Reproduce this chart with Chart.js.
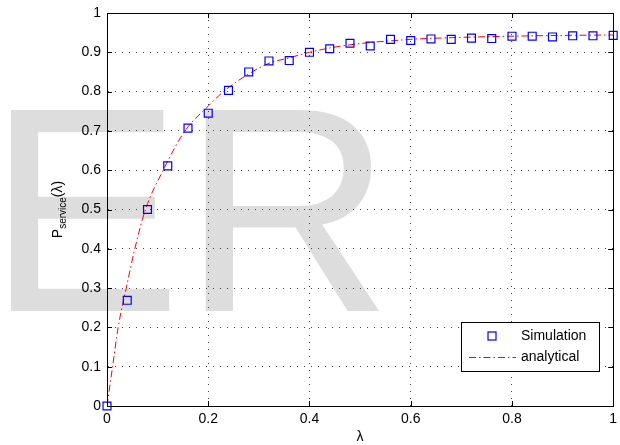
<!DOCTYPE html>
<html>
<head>
<meta charset="utf-8">
<script src="https://cdn.jsdelivr.net/npm/chart.js@4/dist/chart.umd.min.js"></script>
<style>
  html, body { margin: 0; padding: 0; background: #fff; }
  #wrap { width: 620px; height: 445px; }
</style>
</head>
<body>
<div id="wrap"><canvas id="c" width="620" height="445"></canvas></div>
<script>
// simulation points (lambda, P_service)
var simLambda = [0, 0.04, 0.08, 0.12, 0.16, 0.20, 0.24, 0.28, 0.32, 0.36, 0.40, 0.44, 0.48,
                 0.52, 0.56, 0.60, 0.64, 0.68, 0.72, 0.76, 0.80, 0.84, 0.88, 0.92, 0.96, 1.00];
var simP = [0, 0.269, 0.500, 0.611, 0.707, 0.745, 0.803, 0.850, 0.878, 0.879, 0.900, 0.909, 0.923,
            0.916, 0.933, 0.930, 0.934, 0.933, 0.936, 0.935, 0.941, 0.941, 0.939, 0.942, 0.942, 0.943];

// analytical curve
var anLambda = [0, 0.011, 0.022, 0.038, 0.055, 0.076, 0.111, 0.154, 0.200, 0.230, 0.280, 0.320,
                0.360, 0.400, 0.440, 0.480, 0.520, 0.560, 0.600, 0.700, 0.800, 0.900, 1.000];
var anP = [0, 0.1, 0.2, 0.3, 0.4, 0.5, 0.6, 0.7, 0.763, 0.8, 0.845, 0.872,
           0.886, 0.900, 0.911, 0.919, 0.925, 0.929, 0.933, 0.938, 0.941, 0.943, 0.944];

var xTicks = [0, 0.2, 0.4, 0.6, 0.8, 1];
var yTicks = [0, 0.1, 0.2, 0.3, 0.4, 0.5, 0.6, 0.7, 0.8, 0.9, 1];

var FONT = '"Liberation Sans", Arial, Helvetica, sans-serif';

function pairs(xs, ys) {
  return xs.map(function (x, i) { return { x: x, y: ys[i] }; });
}

function fmt(v) { return String(+Number(v).toFixed(2)); }

var matlabLook = {
  id: 'matlabLook',
  beforeDraw: function (chart) {
    var ctx = chart.ctx;
    ctx.save();
    ctx.fillStyle = '#ffffff';
    ctx.fillRect(0, 0, chart.width, chart.height);
    // watermark
    ctx.fillStyle = '#dddddd';
    ctx.font = '292px ' + FONT;
    ctx.textBaseline = 'alphabetic';
    ctx.fillText('ER', -13, 311);
    ctx.restore();
  },
  afterDraw: function (chart) {
    var ctx = chart.ctx, a = chart.chartArea;
    var xs = chart.scales.x, ys = chart.scales.y;
    ctx.save();
    // frame
    ctx.strokeStyle = '#000';
    ctx.lineWidth = 1;
    ctx.setLineDash([]);
    ctx.strokeRect(Math.round(a.left) + 0.5, Math.round(a.top) + 0.5,
                   Math.round(a.right - a.left), Math.round(a.bottom - a.top));
    // inward ticks
    ctx.beginPath();
    xTicks.forEach(function (v) {
      var px = Math.round(xs.getPixelForValue(v)) + 0.5;
      ctx.moveTo(px, a.bottom); ctx.lineTo(px, a.bottom - 5);
      ctx.moveTo(px, a.top); ctx.lineTo(px, a.top + 5);
    });
    yTicks.forEach(function (v) {
      var py = Math.round(ys.getPixelForValue(v)) + 0.5;
      ctx.moveTo(a.left, py); ctx.lineTo(a.left + 5, py);
      ctx.moveTo(a.right, py); ctx.lineTo(a.right - 5, py);
    });
    ctx.stroke();

    // axis titles
    ctx.fillStyle = '#000';
    ctx.textAlign = 'center';
    ctx.textBaseline = 'middle';
    ctx.font = '14px ' + FONT;
    ctx.fillText('λ', (a.left + a.right) / 2, 437);

    ctx.save();
    ctx.translate(62, (a.top + a.bottom) / 2);
    ctx.rotate(-Math.PI / 2);
    ctx.textBaseline = 'alphabetic';
    ctx.textAlign = 'left';
    var big = '14px ' + FONT, small = '10px ' + FONT;
    ctx.font = big; var w1 = ctx.measureText('P').width;
    ctx.font = small; var w2 = ctx.measureText('service').width;
    ctx.font = big; var w3 = ctx.measureText('(λ)').width;
    var x0 = -(w1 + w2 + w3) / 2;
    ctx.font = big; ctx.fillText('P', x0, 0);
    ctx.font = small; ctx.fillText('service', x0 + w1, 4);
    ctx.font = big; ctx.fillText('(λ)', x0 + w1 + w2, 0);
    ctx.restore();

    // legend box
    var lx = 461, ly = 322, lw = 138, lh = 49;
    ctx.fillStyle = '#fff';
    ctx.fillRect(lx, ly, lw, lh);
    ctx.strokeStyle = '#000';
    ctx.lineWidth = 1;
    ctx.strokeRect(lx + 0.5, ly + 0.5, lw, lh);
    var ds = chart.data.datasets;
    // entry 1: square marker
    ctx.strokeStyle = ds[0].borderColor;
    ctx.lineWidth = 1.2;
    ctx.strokeRect(488, 332, 8, 8);
    // entry 2: dash-dot line
    ctx.strokeStyle = ds[1].borderColor;
    ctx.lineWidth = 1;
    ctx.setLineDash(ds[1].borderDash);
    ctx.beginPath();
    ctx.moveTo(469, 357.5); ctx.lineTo(516, 357.5);
    ctx.stroke();
    ctx.setLineDash([]);
    ctx.fillStyle = '#000';
    ctx.font = '14px ' + FONT;
    ctx.textAlign = 'left';
    ctx.textBaseline = 'middle';
    ctx.fillText(ds[0].label, 521, 336);
    ctx.fillText(ds[1].label, 521, 357);
    ctx.restore();
  }
};

new Chart(document.getElementById('c').getContext('2d'), {
  type: 'scatter',
  data: {
    datasets: [
      {
        label: 'Simulation',
        data: pairs(simLambda, simP),
        showLine: false,
        pointStyle: 'rect',
        pointRadius: 5.6,
        pointBorderWidth: 1.2,
        borderColor: '#0000ff',
        backgroundColor: 'rgba(0,0,0,0)',
        clip: false,
        order: 1
      },
      {
        label: 'analytical',
        data: pairs(anLambda, anP),
        showLine: true,
        pointRadius: 0,
        borderColor: '#ff0000',
        borderWidth: 1,
        borderDash: [7, 3, 1.5, 3],
        cubicInterpolationMode: 'monotone',
        fill: false,
        order: 2
      }
    ]
  },
  options: {
    responsive: false,
    animation: false,
    devicePixelRatio: 1,
    layout: { padding: { top: 13, right: 6, left: 0, bottom: 0 } },
    plugins: { legend: { display: false }, tooltip: { enabled: false } },
    scales: {
      x: {
        type: 'linear', min: 0, max: 1,
        afterFit: function (s) { s.height = 39; s.paddingLeft = 0; s.paddingRight = 0; },
        afterBuildTicks: function (s) { s.ticks = xTicks.map(function (v) { return { value: v }; }); },
        ticks: { color: '#000', font: { family: FONT, size: 14 }, padding: 5, maxRotation: 0, callback: fmt },
        grid: { color: '#444', lineWidth: 1, drawTicks: false },
        border: { display: true, color: '#000', dash: [1, 6] }
      },
      y: {
        type: 'linear', min: 0, max: 1,
        afterFit: function (s) { s.width = 107; s.paddingTop = 0; s.paddingBottom = 0; },
        afterBuildTicks: function (s) { s.ticks = yTicks.map(function (v) { return { value: v }; }); },
        ticks: { color: '#000', font: { family: FONT, size: 14 }, padding: 6, callback: fmt },
        grid: { color: '#444', lineWidth: 1, drawTicks: false },
        border: { display: true, color: '#000', dash: [1, 6] }
      }
    }
  },
  plugins: [matlabLook]
});
</script>
</body>
</html>
